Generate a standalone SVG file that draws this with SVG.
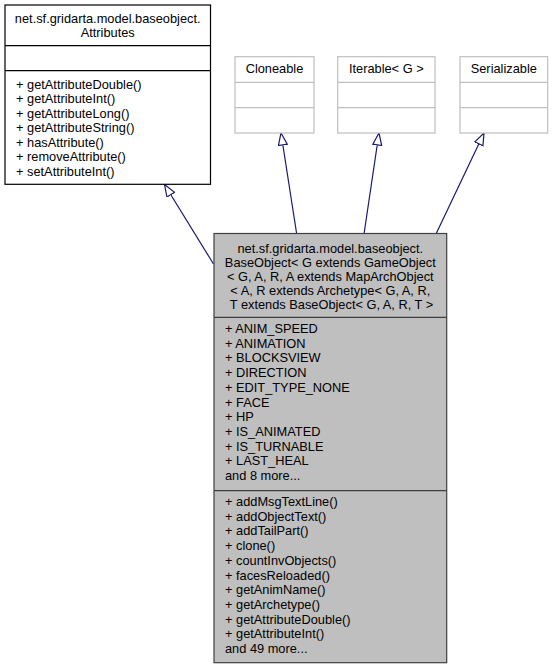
<svg xmlns="http://www.w3.org/2000/svg" width="553" height="668" viewBox="0 0 553 668">
<style>
text{font-family:"Liberation Sans",Arial,sans-serif;font-size:12.8px;fill:#000}
.c{text-anchor:middle}
.edge{stroke:#191970;stroke-width:1.2;fill:none}
.iface{fill:#fff;stroke:#bfbfbf;stroke-width:1.2}
.cls{fill:#fff;stroke:#000;stroke-width:1.2}
.main{fill:#bfbfbf;stroke:#404040;stroke-width:1.2}
</style>
<defs>
<marker id="tri" markerUnits="userSpaceOnUse" markerWidth="14" markerHeight="12" refX="12.5" refY="5" orient="auto">
<path d="M0.5,0.5 L12.5,5 L0.5,9.5 Z" fill="#fff" stroke="#191970" stroke-width="1.2"/>
</marker>
</defs>
<rect width="553" height="668" fill="#fff"/>
<g id="connectors">
<line class="edge" x1="213.5" y1="264" x2="164.5" y2="184.5" marker-end="url(#tri)"/>
<line class="edge" x1="296.7" y1="234" x2="281" y2="133" marker-end="url(#tri)"/>
<line class="edge" x1="364" y1="234" x2="379" y2="133" marker-end="url(#tri)"/>
<line class="edge" x1="436" y1="234" x2="484" y2="133" marker-end="url(#tri)"/>
</g>
<g id="attributes">
<rect class="cls" x="5" y="5" width="205.5" height="179.3"/>
<line stroke="#000" stroke-width="1.2" x1="5" y1="45.7" x2="210.5" y2="45.7"/>
<line stroke="#000" stroke-width="1.2" x1="5" y1="70.7" x2="210.5" y2="70.7"/>
<text class="c" x="107.7" y="22.5">net.sf.gridarta.model.baseobject.</text>
<text class="c" x="107.7" y="37">Attributes</text>
<text x="16" y="88.5">+ getAttributeDouble()</text>
<text x="16" y="103">+ getAttributeInt()</text>
<text x="16" y="117.5">+ getAttributeLong()</text>
<text x="16" y="132">+ getAttributeString()</text>
<text x="16" y="146.5">+ hasAttribute()</text>
<text x="16" y="161">+ removeAttribute()</text>
<text x="16" y="175.5">+ setAttributeInt()</text>
</g>
<g id="cloneable">
<rect class="iface" x="235" y="56.7" width="79" height="76.3"/>
<line stroke="#bfbfbf" stroke-width="1.2" x1="235" y1="82.3" x2="314" y2="82.3"/>
<line stroke="#bfbfbf" stroke-width="1.2" x1="235" y1="107.7" x2="314" y2="107.7"/>
<text class="c" x="274.5" y="73">Cloneable</text>
</g>
<g id="iterable">
<rect class="iface" x="337.7" y="56.7" width="97.3" height="76.3"/>
<line stroke="#bfbfbf" stroke-width="1.2" x1="337.7" y1="82.3" x2="435" y2="82.3"/>
<line stroke="#bfbfbf" stroke-width="1.2" x1="337.7" y1="107.7" x2="435" y2="107.7"/>
<text class="c" x="386.3" y="73">Iterable&lt; G &gt;</text>
</g>
<g id="serializable">
<rect class="iface" x="460" y="56.7" width="87.7" height="76.3"/>
<line stroke="#bfbfbf" stroke-width="1.2" x1="460" y1="82.3" x2="547.7" y2="82.3"/>
<line stroke="#bfbfbf" stroke-width="1.2" x1="460" y1="107.7" x2="547.7" y2="107.7"/>
<text class="c" x="503.8" y="73">Serializable</text>
</g>
<g id="baseobject">
<rect class="main" x="214" y="233.5" width="232.7" height="429.2"/>
<line stroke="#404040" stroke-width="1.2" x1="214" y1="317.3" x2="446.7" y2="317.3"/>
<line stroke="#404040" stroke-width="1.2" x1="214" y1="490.7" x2="446.7" y2="490.7"/>
<text class="c" x="330.3" y="252.5">net.sf.gridarta.model.baseobject.</text>
<text class="c" x="330.3" y="266.5">BaseObject&lt; G extends GameObject</text>
<text class="c" x="330.3" y="280.5">&lt; G, A, R, A extends MapArchObject</text>
<text class="c" x="330.3" y="294.5">&lt; A, R extends Archetype&lt; G, A, R,</text>
<text class="c" x="331.5" y="308.5">T extends BaseObject&lt; G, A, R, T &gt;</text>
<text x="225" y="333">+ ANIM_SPEED</text>
<text x="225" y="347.7">+ ANIMATION</text>
<text x="225" y="362.4">+ BLOCKSVIEW</text>
<text x="225" y="377.1">+ DIRECTION</text>
<text x="225" y="391.8">+ EDIT_TYPE_NONE</text>
<text x="225" y="406.5">+ FACE</text>
<text x="225" y="421.2">+ HP</text>
<text x="225" y="435.9">+ IS_ANIMATED</text>
<text x="225" y="450.6">+ IS_TURNABLE</text>
<text x="225" y="465.3">+ LAST_HEAL</text>
<text x="225" y="480">and 8 more...</text>
<text x="225" y="506">+ addMsgTextLine()</text>
<text x="225" y="520.7">+ addObjectText()</text>
<text x="225" y="535.4">+ addTailPart()</text>
<text x="225" y="550.1">+ clone()</text>
<text x="225" y="564.8">+ countInvObjects()</text>
<text x="225" y="579.5">+ facesReloaded()</text>
<text x="225" y="594.2">+ getAnimName()</text>
<text x="225" y="608.9">+ getArchetype()</text>
<text x="225" y="623.6">+ getAttributeDouble()</text>
<text x="225" y="638.3">+ getAttributeInt()</text>
<text x="225" y="653">and 49 more...</text>
</g>
</svg>
